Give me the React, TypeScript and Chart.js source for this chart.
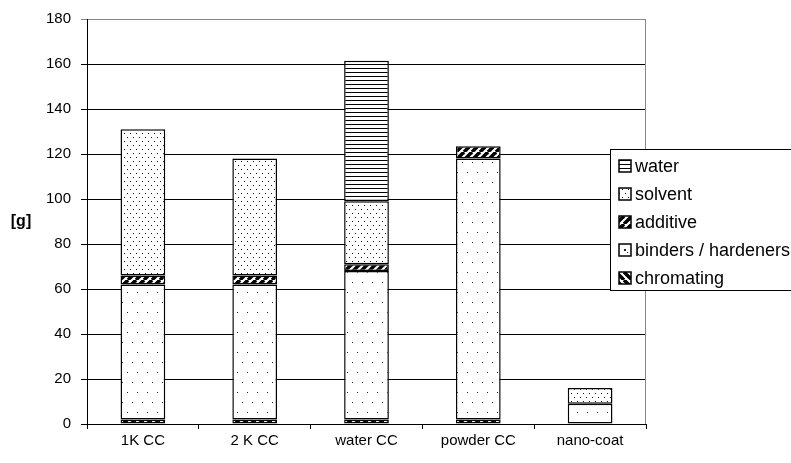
import React, { useEffect, useRef } from "react";
import { Chart, registerables } from "chart.js";

Chart.register(...registerables);

const categories = ["1K CC", "2 K CC", "water CC", "powder CC", "nano-coat"];
const chromating = [2, 2, 2, 2, null];
const binders = [60, 60, 66, 116, 9];
const additive = [4, 4, 3, 5.5, null];
const solvent = [65, 52, 28, null, 7];
const water = [null, null, 62.5, null, null];
const yTicks = [0, 20, 40, 60, 80, 100, 120, 140, 160, 180];

const FONT = "'Liberation Sans', Arial, sans-serif";

function makePattern(w: number, h: number, draw: (c: CanvasRenderingContext2D) => void) {
  const cv = document.createElement("canvas");
  cv.width = w;
  cv.height = h;
  const c = cv.getContext("2d") as CanvasRenderingContext2D;
  c.fillStyle = "#fff";
  c.fillRect(0, 0, w, h);
  draw(c);
  const ctx = document.createElement("canvas").getContext("2d") as CanvasRenderingContext2D;
  return ctx.createPattern(cv, "repeat") as CanvasPattern;
}

function patterns() {
  const sparseDots = makePattern(10, 20, (c) => {
    c.fillStyle = "#222";
    c.fillRect(2, 2, 1, 1);
    c.fillRect(7, 12, 1, 1);
  });
  const denseDots = makePattern(6, 8, (c) => {
    c.fillStyle = "#111";
    c.fillRect(1, 1, 1, 1);
    c.fillRect(4, 5, 1, 1);
  });
  const slash = makePattern(8, 8, (c) => {
    c.strokeStyle = "#000";
    c.lineWidth = 3.5;
    for (let k = -1; k <= 1; k++) {
      c.beginPath();
      c.moveTo(k * 8, 8);
      c.lineTo(k * 8 + 8, 0);
      c.stroke();
    }
  });
  const backslash = makePattern(8, 8, (c) => {
    c.strokeStyle = "#000";
    c.lineWidth = 3.5;
    for (let k = -1; k <= 1; k++) {
      c.beginPath();
      c.moveTo(k * 8, 0);
      c.lineTo(k * 8 + 8, 8);
      c.stroke();
    }
  });
  const hlines = makePattern(4, 4, (c) => {
    c.fillStyle = "#000";
    c.fillRect(0, 0, 4, 1);
  });
  return { sparseDots, denseDots, slash, backslash, hlines };
}

export default function App() {
  const ref = useRef<HTMLCanvasElement>(null);
  useEffect(() => {
    const p = patterns();
    const datasets = [
      { label: "chromating", data: chromating, backgroundColor: p.backslash },
      { label: "binders / hardeners", data: binders, backgroundColor: p.sparseDots },
      { label: "additive", data: additive, backgroundColor: p.slash },
      { label: "solvent", data: solvent, backgroundColor: p.denseDots },
      { label: "water", data: water, backgroundColor: p.hlines },
    ].map((d) => ({
      ...d,
      borderColor: "#000",
      borderWidth: 1.5,
      borderSkipped: false as const,
      categoryPercentage: 1,
      barPercentage: 0.4,
    }));

    const extras = {
      id: "extras",
      afterDraw(chart: any) {
        const ctx = chart.ctx as CanvasRenderingContext2D;
        const a = chart.chartArea;
        ctx.save();
        ctx.strokeStyle = "#888";
        ctx.lineWidth = 1;
        ctx.beginPath();
        ctx.moveTo(Math.round(a.right) - 0.5, a.top);
        ctx.lineTo(Math.round(a.right) - 0.5, a.bottom);
        ctx.stroke();
        ctx.fillStyle = "#000";
        ctx.font = "bold 16px " + FONT;
        ctx.textAlign = "center";
        ctx.textBaseline = "middle";
        ctx.fillText("[g]", 21, 222);
        const lx = 610.5, ly = 149.5, lw = 182, lh = 141;
        ctx.fillStyle = "#fff";
        ctx.fillRect(lx, ly, lw, lh);
        ctx.strokeStyle = "#000";
        ctx.lineWidth = 1;
        ctx.strokeRect(lx, ly, lw, lh);
        const ds = chart.data.datasets.slice().reverse();
        ctx.font = "18px " + FONT;
        ctx.textAlign = "left";
        ds.forEach((d: any, i: number) => {
          const cy = 166 + i * 28;
          ctx.fillStyle = d.backgroundColor;
          ctx.fillRect(619, cy - 6, 12, 12);
          if (d.label.startsWith("binders")) {
            ctx.fillStyle = "#222";
            ctx.fillRect(624, cy - 1, 2, 2);
          }
          ctx.strokeStyle = "#000";
          ctx.lineWidth = 1.5;
          ctx.strokeRect(619, cy - 6, 12, 12);
          ctx.fillStyle = "#000";
          ctx.fillText(d.label, 635, cy + 1);
        });
        ctx.restore();
      },
    };

    const chart = new Chart(ref.current as HTMLCanvasElement, {
      type: "bar",
      data: { labels: categories, datasets },
      options: {
        animation: false,
        responsive: false,
        devicePixelRatio: 1,
        layout: { padding: { left: 40, right: 145, top: 17, bottom: 9 } },
        plugins: { legend: { display: false }, tooltip: { enabled: false } },
        scales: {
          x: {
            stacked: true,
            grid: { drawOnChartArea: false, drawTicks: true, tickLength: 5, color: "#000" },
            border: { color: "#000", width: 1 },
            ticks: { color: "#000", font: { family: FONT, size: 15 }, padding: 3 },
            afterFit: (s: any) => {
              s.height = 30;
            },
          },
          y: {
            stacked: true,
            min: 0,
            max: 180,
            afterBuildTicks: (s: any) => {
              s.ticks = yTicks.map((v) => ({ value: v }));
            },
            grid: {
              color: (c: any) => (c.tick && c.tick.value === 180 ? "#888" : "#000"),
              tickLength: 6,
              lineWidth: 1,
            },
            border: { color: "#000", width: 1 },
            ticks: { color: "#000", font: { family: FONT, size: 15 }, padding: 10 },
            afterFit: (s: any) => {
              s.width = 47;
            },
          },
        },
      },
      plugins: [extras],
    });
    return () => chart.destroy();
  }, []);

  return (
    <div style={{ position: "fixed", left: 0, top: 0, width: 791, height: 463, background: "#fff" }}>
      <canvas ref={ref} width={791} height={463} />
    </div>
  );
}
